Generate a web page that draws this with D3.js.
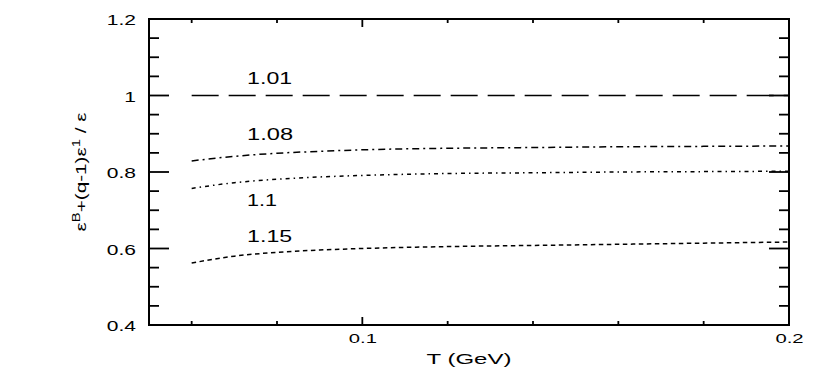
<!DOCTYPE html>
<html>
<head>
<meta charset="utf-8">
<script src="https://cdn.jsdelivr.net/npm/d3@7"></script>
<style>
  body { margin: 0; background: #fff; }
  svg { display: block; }
  text { font-family: "Liberation Sans", Arial, sans-serif; fill: #000; }
</style>
</head>
<body>
<svg id="chart" width="830" height="382"></svg>
<script>
// data
var temps = [0.06, 0.07, 0.08, 0.09, 0.1, 0.12, 0.14, 0.16, 0.18, 0.2];
var q101 = [1.0, 1.0, 1.0, 1.0, 1.0, 1.0, 1.0, 1.0, 1.0, 1.0];
var q108 = [0.829, 0.841, 0.849, 0.854, 0.858, 0.862, 0.864, 0.866, 0.867, 0.868];
var q110 = [0.757, 0.772, 0.781, 0.787, 0.791, 0.796, 0.798, 0.800, 0.801, 0.802];
var q115 = [0.562, 0.580, 0.590, 0.596, 0.600, 0.605, 0.608, 0.611, 0.614, 0.617];
var seriesNames = ["1.01", "1.08", "1.1", "1.15"];
var xTickLabels = [0.1, 0.2];
var yTickLabels = [0.4, 0.6, 0.8, 1.0, 1.2];

var margin = {top: 19, right: 41, bottom: 57, left: 149};
var width = 830 - margin.left - margin.right;
var height = 382 - margin.top - margin.bottom;

var svg = d3.select("#chart");
var g = svg.append("g")
    .attr("transform", "translate(" + margin.left + "," + margin.top + ")");

var x = d3.scaleLinear().domain([0.05, 0.2]).range([0, width]);
var y = d3.scaleLinear().domain([0.4, 1.2]).range([height, 0]);

// stretch text horizontally like the original
function stretch(sel, k) {
    sel.each(function () {
        var w = this.getComputedTextLength();
        d3.select(this).attr("textLength", w * k).attr("lengthAdjust", "spacingAndGlyphs");
    });
}

// minor ticks
var xMinor = d3.range(0.06, 0.2001, 0.02).filter(function (d) {
    return Math.abs(d - 0.1) > 1e-6 && Math.abs(d - 0.2) > 1e-6;
});
var yMinor = d3.range(0.45, 1.2, 0.05).filter(function (d) {
    return Math.abs(Math.round(d * 10) - d * 10) > 1e-6 || Math.round(d * 10) % 2 === 1;
});

var tickG = g.append("g").attr("stroke", "#000").attr("stroke-width", 1.8);

function yTicks(vals, len) {
    tickG.selectAll(null).data(vals).enter().append("line")
        .attr("x1", 0).attr("x2", len)
        .attr("y1", function (d) { return y(d); }).attr("y2", function (d) { return y(d); });
    tickG.selectAll(null).data(vals).enter().append("line")
        .attr("x1", width).attr("x2", width - len)
        .attr("y1", function (d) { return y(d); }).attr("y2", function (d) { return y(d); });
}
function xTicks(vals, len) {
    tickG.selectAll(null).data(vals).enter().append("line")
        .attr("y1", height).attr("y2", height - len)
        .attr("x1", function (d) { return x(d); }).attr("x2", function (d) { return x(d); });
    tickG.selectAll(null).data(vals).enter().append("line")
        .attr("y1", 0).attr("y2", len)
        .attr("x1", function (d) { return x(d); }).attr("x2", function (d) { return x(d); });
}
yTicks(yTickLabels, 20);
yTicks(yMinor, 10);
xTicks(xMinor, 4);
xTicks([0.1], 8);

// frame
g.append("rect")
    .attr("width", width).attr("height", height)
    .attr("fill", "none").attr("stroke", "#000").attr("stroke-width", 2);

// tick labels via axes (no tick lines)
var yAxis = g.append("g")
    .call(d3.axisLeft(y).tickValues(yTickLabels).tickSize(0).tickPadding(13)
        .tickFormat(d3.format("~g")));
yAxis.select(".domain").remove();
yAxis.selectAll("text").style("font-size", "14px").attr("dy", "0.4em").call(stretch, 1.5);

var xAxis = g.append("g")
    .attr("transform", "translate(0," + height + ")")
    .call(d3.axisBottom(x).tickValues(xTickLabels).tickSize(0).tickPadding(8)
        .tickFormat(d3.format("~g")));
xAxis.select(".domain").remove();
xAxis.selectAll("text").style("font-size", "13.5px").call(stretch, 1.5);

// axis titles
g.append("text")
    .attr("x", width / 2).attr("y", height + 39)
    .attr("text-anchor", "middle")
    .style("font-size", "15px")
    .text("T (GeV)")
    .call(stretch, 1.6);

var yl = g.append("text")
    .attr("transform", "translate(-63," + (height / 2) + ") rotate(-90)")
    .attr("text-anchor", "middle")
    .style("font-size", "14px");
yl.append("tspan").text("\u03b5");
yl.append("tspan").attr("font-size", "10px").attr("dy", "-6").text("B");
yl.append("tspan").attr("dy", "6").text("+(q-1)\u03b5");
yl.append("tspan").attr("font-size", "10px").attr("dy", "-6").text("1");
yl.append("tspan").attr("dy", "6").text(" / \u03b5");
yl.attr("textLength", 119).attr("lengthAdjust", "spacingAndGlyphs");

// curves
var series = [q101, q108, q110, q115];
var dashes = ["27,10", "7,4,2,4", "4,4,1.5,4", "4.5,3.5"];
var line = d3.line()
    .x(function (d) { return x(d[0]); })
    .y(function (d) { return y(d[1]); })
    .curve(d3.curveMonotoneX);

g.selectAll(".curve").data(series).enter().append("path")
    .attr("class", "curve")
    .attr("fill", "none")
    .attr("stroke", "#000")
    .attr("stroke-width", 1.5)
    .attr("stroke-dasharray", function (d, i) { return dashes[i]; })
    .attr("d", function (d) {
        return line(temps.map(function (t, j) { return [t, d[j]]; }));
    });

// curve labels
var labelAt = [1.03, 0.884, 0.71, 0.618];
var labelW = [45, 46, 30, 45];
g.selectAll(".lbl").data(seriesNames).enter().append("text")
    .attr("class", "lbl")
    .attr("x", x(0.073))
    .attr("y", function (d, i) { return y(labelAt[i]); })
    .style("font-size", "17px")
    .attr("textLength", function (d, i) { return labelW[i]; })
    .attr("lengthAdjust", "spacingAndGlyphs")
    .text(function (d) { return d; });
</script>
</body>
</html>
